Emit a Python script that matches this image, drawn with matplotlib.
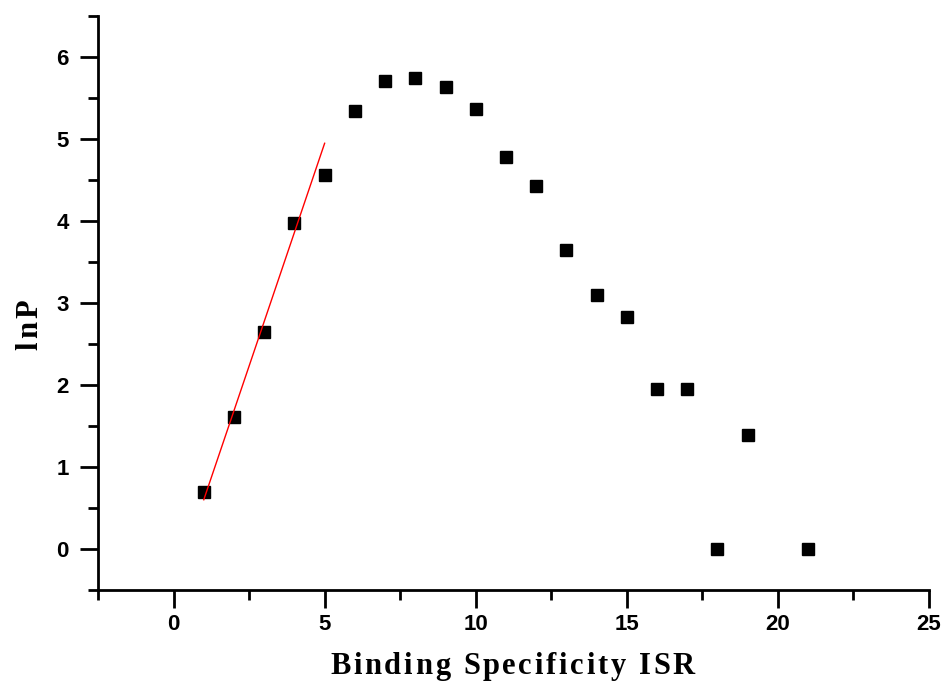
import matplotlib
matplotlib.use("Agg")
import matplotlib.pyplot as plt
from matplotlib.ticker import MultipleLocator

isr = [1, 2, 3, 4, 5, 6, 7, 8, 9, 10, 11, 12, 13, 14, 15, 16, 17, 18, 19, 21]
lnp = [0.69, 1.61, 2.64, 3.97, 4.56, 5.34, 5.71, 5.74, 5.63, 5.36,
       4.78, 4.43, 3.64, 3.09, 2.83, 1.95, 1.95, 0.0, 1.39, 0.0]
fit_x = [1, 5]
fit_y = [0.60, 4.945]
xticks = [0, 5, 10, 15, 20, 25]
yticks = [0, 1, 2, 3, 4, 5, 6]
xlabel = 'Binding Specificity ISR'
ylabel = 'lnP'

W, H = 947, 684
fig = plt.figure(figsize=(W / 100, H / 100), dpi=100)
ax = fig.add_axes([98 / W, (H - 590) / H, (929 - 98) / W, (590 - 15.7) / H])

ax.plot(isr, lnp, linestyle='none', marker='s', color='black', markersize=8.8)
ax.plot(fit_x, fit_y, color='red', linewidth=1.0)

ax.set_xlim(-2.5, 25)
ax.set_ylim(-0.5, 6.5)
ax.set_xticks(xticks)
ax.set_yticks(yticks)
ax.xaxis.set_minor_locator(MultipleLocator(2.5))
ax.yaxis.set_minor_locator(MultipleLocator(0.5))

for s in ['top', 'right']:
    ax.spines[s].set_visible(False)
for s in ['left', 'bottom']:
    ax.spines[s].set_linewidth(2.0)

ax.tick_params(which='major', direction='out', length=13, width=2.0)
ax.tick_params(which='minor', direction='out', length=7, width=2.0)
ax.tick_params(axis='x', which='major', pad=4.5)
ax.tick_params(axis='y', which='major', pad=8)
for lab in ax.get_xticklabels() + ax.get_yticklabels():
    lab.set_fontfamily('Liberation Sans')
    lab.set_fontweight('bold')
    lab.set_fontsize(16)

renderer = fig.canvas.get_renderer()
fprops = dict(fontfamily='Liberation Serif', fontweight='bold', fontsize=22)


def text_width(s):
    t = fig.text(0, 0, s, **fprops)
    w = t.get_window_extent(renderer).width
    t.remove()
    return w


def spaced(s, x0, y0, spacing, vertical=False):
    bar = text_width('|')
    for i, ch in enumerate(s):
        if ch == ' ':
            continue
        off = (text_width(s[:i] + '|') - bar if i > 0 else 0) + i * spacing
        if vertical:
            fig.text(x0 / W, (H - (y0 - off)) / H, ch, rotation=90,
                     rotation_mode='anchor', ha='left', va='baseline', **fprops)
        else:
            fig.text((x0 + off) / W, (H - y0) / H, ch, ha='left',
                     va='baseline', **fprops)


spaced(xlabel, 330, 674, 2.7)
spaced(ylabel, 37, 350, 3.0, vertical=True)

fig.savefig('out.png', dpi=100)
